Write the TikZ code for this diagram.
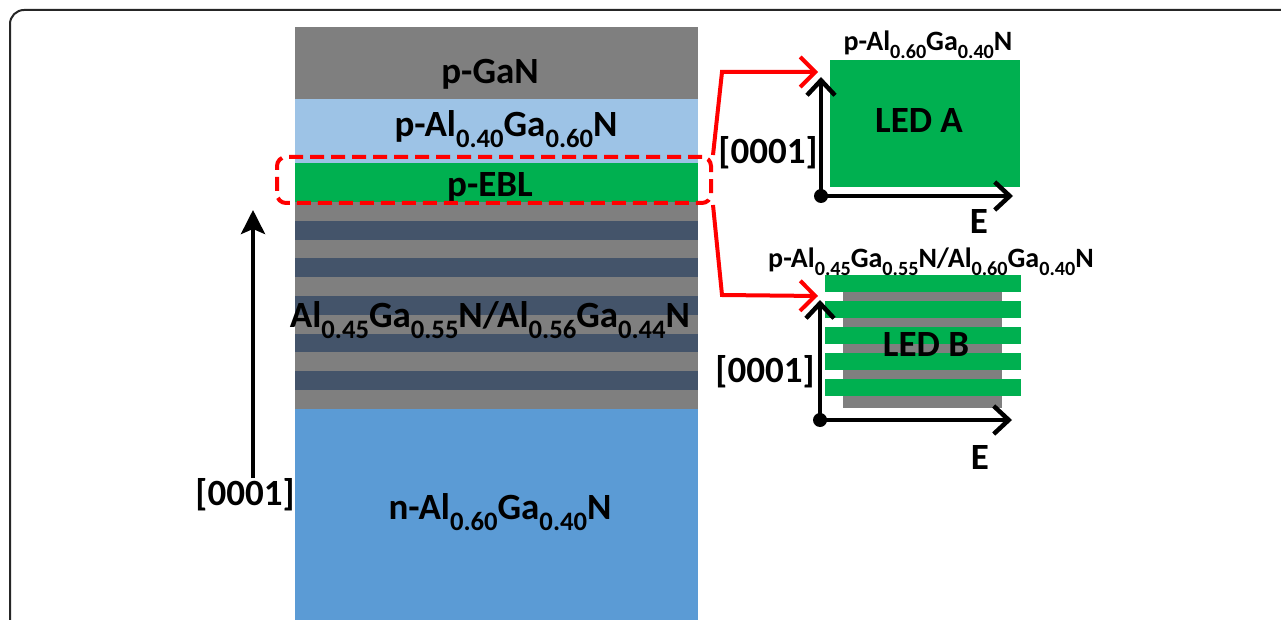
\documentclass[tikz,border=0pt]{standalone}
\usepackage{fontspec}
\setmainfont{Carlito}
\usetikzlibrary{positioning,arrows.meta}
\definecolor{gangray}{HTML}{7F7F7F}
\definecolor{pblue}{HTML}{9DC3E6}
\definecolor{eblgreen}{HTML}{00B050}
\definecolor{sldark}{HTML}{44546A}
\definecolor{nblue}{HTML}{5B9BD5}
\newcommand{\lsub}[1]{\raisebox{-0.28em}{\scalebox{0.72}{#1}}}

\begin{document}
\begin{tikzpicture}[x=1pt, y=-1pt,
    lbl/.style={font=\fontsize{37}{40}\selectfont\bfseries, inner sep=0pt},
    small/.style={font=\fontsize{28}{32}\selectfont\bfseries, inner sep=0pt},
    axis/.style={-{Straight Barb[length=15pt,width=28pt]}, line width=4.5pt},
    bigarrow/.style={-{Stealth[length=24pt,width=24pt,inset=5pt]}, line width=4pt},
    redarrow/.style={red, line width=4pt, -{Straight Barb[length=15pt,width=30pt]}},
    ebl/.style={draw=red, line width=4pt, dash pattern=on 14pt off 7pt, rounded corners=9pt, minimum width=434pt, minimum height=46pt, inner sep=0pt},
]
\useasboundingbox (0,0) rectangle (1281,620);
\clip (0,0) rectangle (1281,620);
\draw[line width=2pt, black!85, rounded corners=14pt] (10,10) rectangle (1300,640);

% layer stack
\fill[gangray] (295,27) rectangle (698,99);
\fill[pblue] (295,99) rectangle (698,163);
\fill[eblgreen] (295,163) rectangle (698,202);
\foreach \i in {0,2,...,10} \fill[gangray] (295,202+18.8*\i) rectangle (698,202+18.8*\i+18.8);
\foreach \i in {1,3,...,9} \fill[sldark] (295,202+18.8*\i) rectangle (698,202+18.8*\i+18.8);
\fill[nblue] (295,409) rectangle (698,625);

\node[lbl] (gan) at (490,74) {p-GaN};
\node[lbl] (palgan) at (506,129) {p-Al\lsub{0.40}Ga\lsub{0.60}N};
\node[lbl] (pebl) at (490,187) {p-EBL};
\node[lbl] (sl) at (490,320) {Al\lsub{0.45}Ga\lsub{0.55}N/Al\lsub{0.56}Ga\lsub{0.44}N};
\node[lbl] (nalgan) at (500,512) {n-Al\lsub{0.60}Ga\lsub{0.40}N};
\node[ebl] (eblbox) at (494,180) {};

\node[lbl] (gdir) at (245,495) {[0001]};
\coordinate (gtail) at (253,478);
\coordinate (gtip) at (253,210);
\draw[bigarrow] (gtail) -- (gtip);

% LED A
\fill[eblgreen] (830,60) rectangle (1020,187);
\coordinate (oA) at (821,196);
\coordinate (yA) at (821,77);
\coordinate (xA) at (1013,196);
\draw[axis] (oA) -- (yA);
\draw[axis] (oA) -- (xA);
\fill (oA) circle (7);
\node[small] (titleA) at (928,45) {p-Al\lsub{0.60}Ga\lsub{0.40}N};
\node[lbl] (ledA) at (919,121) {LED A};
\node[lbl] (dirA) at (768,153) {[0001]};
\node[lbl] (eA) at (979,222) {E};

% LED B
\fill[gangray] (843,283) rectangle (1002,408);
\foreach \y in {275,301,327,353,379} \fill[eblgreen] (825,\y) rectangle (1021,\y+17);
\coordinate (oB) at (820,420);
\coordinate (yB) at (820,300);
\coordinate (xB) at (1012,420);
\draw[axis] (oB) -- (yB);
\draw[axis] (oB) -- (xB);
\fill (oB) circle (7);
\node[small] (titleB) at (931,262) {p-Al\lsub{0.45}Ga\lsub{0.55}N/Al\lsub{0.60}Ga\lsub{0.40}N};
\node[lbl] (ledB) at (926,345) {LED B};
\node[lbl] (dirB) at (765,372) {[0001]};
\node[lbl] (eB) at (980,458) {E};

% zoom arrows
\coordinate (kinkA) at (722,72);
\coordinate (inA) at (818,72);
\coordinate (kinkB) at (722,295);
\coordinate (inB) at (818,296);
\draw[redarrow] (eblbox.north east) -- (kinkA) -- (inA);
\draw[redarrow] (eblbox.south east) -- (kinkB) -- (inB);
\end{tikzpicture}
\end{document}
